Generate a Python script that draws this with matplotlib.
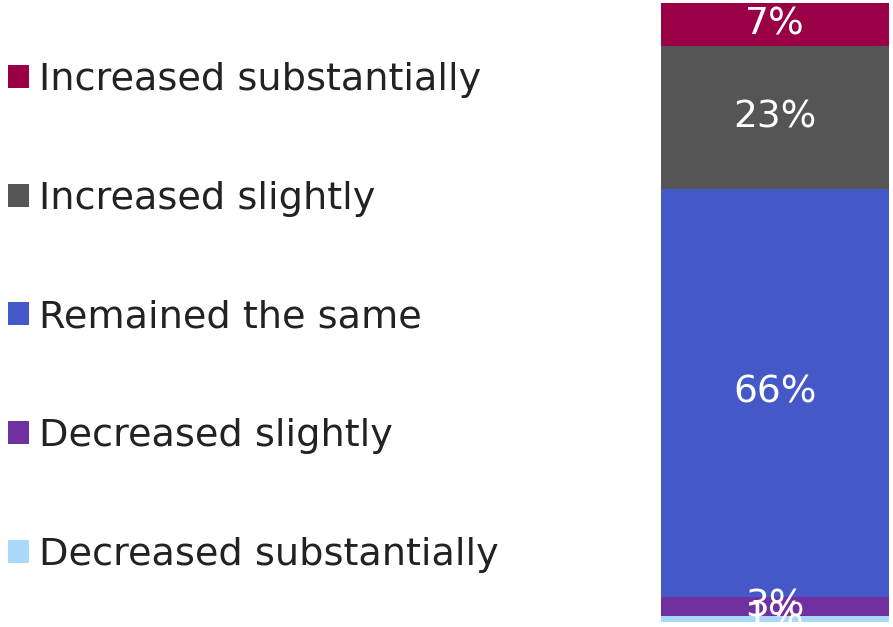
import matplotlib.pyplot as plt
from matplotlib.patches import Patch

categories = ["Increased substantially", "Increased slightly", "Remained the same",
              "Decreased slightly", "Decreased substantially"]
values = [7, 23, 66, 3, 1]
colors = ["#990045", "#555555", "#4558C8", "#7030A0", "#A9D8F8"]

fig = plt.figure(figsize=(8.93, 6.27), dpi=100)
ax = fig.add_axes([661 / 893, 5 / 627, 228 / 893, 619 / 627])

# stack from the bottom up
bottom = 0
for cat, val, col in reversed(list(zip(categories, values, colors))):
    ax.bar(0, val, bottom=bottom, width=1, color=col)
    ax.text(0, bottom + val / 2, f"{val}%", ha="center", va="center",
            color="white", fontsize=27)
    bottom += val

ax.set_xlim(-0.5, 0.5)
ax.set_ylim(0, sum(values))
ax.axis("off")

handles = [Patch(facecolor=c, edgecolor="none") for c in colors]
fig.legend(handles, categories, loc="upper left", bbox_to_anchor=(-0.008, 0.926),
           frameon=False, fontsize=27.5, handlelength=0.55, handleheight=0.55,
           handletextpad=0.25, labelspacing=2.17, borderaxespad=0,
           labelcolor="#222222")

fig.savefig("out.png", dpi=100)
